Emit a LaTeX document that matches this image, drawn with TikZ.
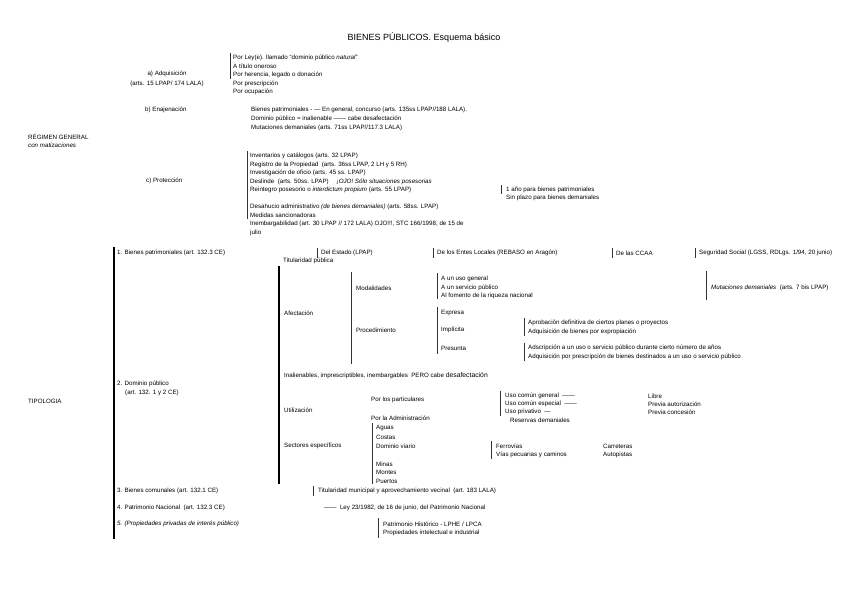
\documentclass[tikz,border=0pt]{standalone}
\usepackage{fontspec}
\setmainfont{Liberation Sans}
\newcommand\mytx[4]{\node[txt] (#1) at (#2,#3) {#4};}
\begin{document}
\begin{tikzpicture}[x=1pt,y=-1pt,
  txt/.style={anchor=west,inner sep=0pt,font=\fontsize{6.2}{7}\selectfont},
  brk/.style={line width=0.9pt,draw=black!80},
  brkthick/.style={line width=1.8pt,draw=black}]
\useasboundingbox[fill=white] (0,0) rectangle (848,599);
% title
\node[inner sep=0pt,font=\fontsize{9}{10}\selectfont] (title) at (424,38) {BIENES PÚBLICOS. Esquema básico};
% Regimen general
\mytx{rg}{28}{137}{RÉGIMEN GENERAL}
\mytx{rg2}{28}{145}{\itshape con matizaciones}
% a) Adquisicion
\node[inner sep=0pt,font=\fontsize{6.2}{7}\selectfont] (adq) at (167,74) {a) Adquisición};
\node[inner sep=0pt,font=\fontsize{6.2}{7}\selectfont] (adq2) at (167,84) {(arts. 15 LPAP/ 174 LALA)};
\draw[brk] (230,53) -- (230,79);
\mytx{a1}{233}{58}{Por Ley(e). llamado “dominio público \textit{natural}”}
\mytx{a2}{233}{66.5}{A título oneroso}
\mytx{a3}{233}{75}{Por herencia, legado o donación}
\mytx{a4}{233}{83.5}{Por prescripción}
\mytx{a5}{233}{92}{Por ocupación}
% b) Enajenacion
\mytx{en}{145}{110}{b) Enajenación}
\mytx{b1}{251}{110}{Bienes patrimoniales - — En general, concurso (arts. 135ss LPAP//188 LALA).}
\mytx{b2}{251}{119}{Dominio público = inalienable —— cabe desafectación}
\mytx{b3}{251}{128}{Mutaciones demaniales (arts. 71ss LPAP//117.3 LALA)}
% c) Proteccion
\mytx{pr}{146}{181}{c) Protección}
\draw[brk] (247,151) -- (247,219);
\mytx{c1}{250}{156}{Inventarios y catálogos (arts. 32 LPAP)}
\mytx{c2}{250}{164.5}{Registro de la Propiedad \ (arts. 36ss LPAP, 2 LH y 5 RH)}
\mytx{c3}{250}{173}{Investigación de oficio (arts. 45 ss. LPAP)}
\mytx{c4}{250}{181.5}{Deslinde \ (arts. 50ss. LPAP) \quad \textit{¡OJO! Sólo situaciones posesorias}}
\mytx{c5}{250}{190}{Reintegro posesorio o \textit{interdictum propium} (arts. 55 LPAP)}
\mytx{c6}{250}{207}{Desahucio administrativo \textit{(de bienes demaniales)} (arts. 58ss. LPAP)}
\mytx{c7}{250}{215.5}{Medidas sancionadoras}
\mytx{c8}{250}{224}{Inembargabilidad (art. 30 LPAP // 172 LALA) OJO!!!, STC 166/1998, de 15 de}
\mytx{c9}{250}{232.5}{julio}
\draw[brk] (501,185) -- (501,194);
\mytx{d1}{506}{189.5}{1 año para bienes patrimoniales}
\mytx{d2}{506}{198}{Sin plazo para bienes demaniales}
% Tipologia
\mytx{tip}{28}{401}{TIPOLOGIA}
\draw[brkthick] (114,247) -- (114,539);
\mytx{t1}{117}{253}{1. Bienes patrimoniales (art. 132.3 CE)}
\draw[brk] (317,248) -- (317,258);
\mytx{p1}{321}{253}{Del Estado (LPAP)}
\draw[brk] (433,248) -- (433,258);
\mytx{p2}{437}{253}{De los Entes Locales (REBASO en Aragón)}
\draw[brk] (612,248) -- (612,258);
\mytx{p3}{616}{253}{De las CCAA}
\draw[brk] (695,248) -- (695,258);
\mytx{p4}{699}{253}{Seguridad Social (LGSS, RDLgs. 1/94, 20 junio)}
\mytx{tp}{283}{261}{Titularidad pública}
% Dominio publico
\mytx{t2}{117}{384}{2. Dominio público}
\mytx{t2b}{125}{393}{(art. 132. 1 y 2 CE)}
\draw[brkthick] (279,266) -- (279,484);
\mytx{af}{284}{313}{Afectación}
\draw[brk] (351,272) -- (351,364);
\mytx{mo}{356}{288}{Modalidades}
\mytx{pc}{356}{330}{Procedimiento}
\draw[brk] (437,273) -- (437,299);
\mytx{m1}{441}{279}{A un uso general}
\mytx{m2}{441}{287.5}{A un servicio público}
\mytx{m3}{441}{296}{Al fomento de la riqueza nacional}
\draw[brk] (706,271) -- (706,300);
\mytx{mu}{711}{288}{\textit{Mutaciones demaniales} \ (arts. 7 bis LPAP)}
\draw[brk] (437,307) -- (437,354);
\mytx{e1}{441}{313}{Expresa}
\mytx{e2}{441}{330}{Implícita}
\mytx{e3}{441}{348}{Presunta}
\draw[brk] (524,318) -- (524,336);
\mytx{i1}{528}{323}{Aprobación definitiva de ciertos planes o proyectos}
\mytx{i2}{528}{331.5}{Adquisición de bienes por expropiación}
\draw[brk] (524,343) -- (524,361);
\mytx{s1}{528}{348}{Adscripción a un uso o servicio público durante cierto número de años}
\mytx{s2}{528}{356.5}{Adquisición por prescripción de bienes destinados a un uso o servicio público}
\mytx{ina}{284}{376}{Inalienables, imprescriptibles, inembargables \ PERO cabe \fontsize{6.8}{7.5}\selectfont desafectación}
\mytx{ut}{284}{410}{Utilización}
\mytx{u1}{371}{400}{Por los particulares}
\mytx{u2}{371}{418}{Por la Administración}
\draw[brk] (500,391) -- (500,416);
\mytx{v1}{505}{396}{Uso común general \ ——}
\mytx{v2}{505}{404}{Uso común especial \ ——}
\mytx{v3}{505}{412}{Uso privativo \ —}
\mytx{v4}{510}{420}{Reservas demaniales}
\mytx{w1}{648}{396}{Libre}
\mytx{w2}{648}{404}{Previa autorización}
\mytx{w3}{648}{412}{Previa concesión}
\mytx{se}{284}{446}{Sectores específicos}
\draw[brk] (372,423) -- (372,484);
\mytx{x1}{376}{428}{Aguas}
\mytx{x2}{376}{437}{Costas}
\mytx{x3}{376}{446}{Dominio viario}
\mytx{x4}{376}{464}{Minas}
\mytx{x5}{376}{472.5}{Montes}
\mytx{x6}{376}{481}{Puertos}
\draw[brk] (491,441) -- (491,459);
\mytx{y1}{496}{446}{Ferrovías}
\mytx{y2}{496}{454.5}{Vías pecuarias y caminos}
\mytx{z1}{603}{446}{Carreteras}
\mytx{z2}{603}{454.5}{Autopistas}
% 3, 4, 5
\mytx{t3}{117}{491}{3. Bienes comunales (art. 132.1 CE)}
\draw[brk] (313,486) -- (313,496);
\mytx{k1}{318}{491}{Titularidad municipal y aprovechamiento vecinal \ (art. 183 LALA)}
\mytx{t4}{117}{508}{4. Patrimonio Nacional \ (art. 132.3 CE)}
\mytx{k2}{324}{508}{—— \ Ley 23/1982, de 16 de junio, del Patrimonio Nacional}
\mytx{t5}{117}{524}{\itshape 5. (Propiedades privadas de interés público)}
\draw[brk] (378,518) -- (378,538);
\mytx{k3}{383}{524}{Patrimonio Histórico - LPHE / LPCA}
\mytx{k4}{383}{533}{Propiedades intelectual e industrial}
\end{tikzpicture}
\end{document}
